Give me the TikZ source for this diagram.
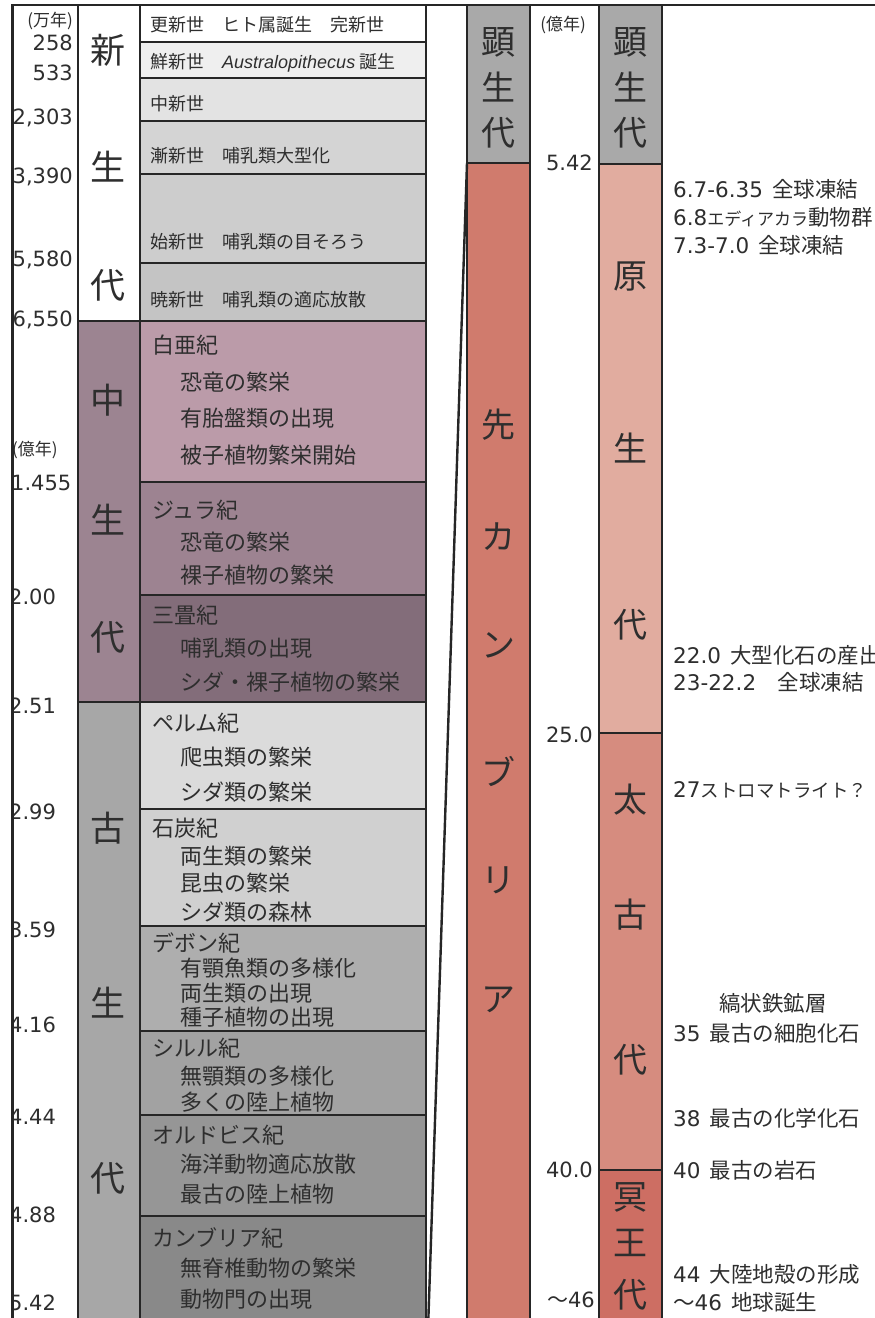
\documentclass[tikz,border=0pt]{standalone}
\usepackage{fontspec}
\setmainfont{Noto Sans CJK JP}
\newfontfamily\dv{DejaVu Sans}
\newfontfamily\lsans{Liberation Sans}
\definecolor{txt}{HTML}{2E2E2E}
\definecolor{ln}{HTML}{262626}
\definecolor{pA}{HTML}{FFFFFF}
\definecolor{pB}{HTML}{EFEFEF}
\definecolor{pC}{HTML}{E3E3E3}
\definecolor{pD}{HTML}{D4D4D4}
\definecolor{pE}{HTML}{CDCDCD}
\definecolor{pF}{HTML}{C4C4C4}
\definecolor{mK}{HTML}{BB9BA9}
\definecolor{mJ}{HTML}{9D8391}
\definecolor{mT}{HTML}{836D7A}
\definecolor{mEra}{HTML}{9C8491}
\definecolor{qP}{HTML}{DBDBDB}
\definecolor{qC}{HTML}{D0D0D0}
\definecolor{qD}{HTML}{AEAEAE}
\definecolor{qS}{HTML}{A2A2A2}
\definecolor{qO}{HTML}{969696}
\definecolor{qCm}{HTML}{898989}
\definecolor{qEra}{HTML}{A7A7A7}
\definecolor{phan}{HTML}{A9A9A9}
\definecolor{precam}{HTML}{D07B6D}
\definecolor{prot}{HTML}{E1AC9F}
\definecolor{arch}{HTML}{D68C7F}
\definecolor{hade}{HTML}{CD6E63}
\newcommand\gap{\hspace{9pt}}
\begin{document}
\begin{tikzpicture}[x=1pt,y=-1pt,
 bx/.style={draw=ln,line width=1.8pt},
 lab/.style={inner sep=0pt,text=txt,anchor=west},
 cz/.style={lab,font=\fontsize{18}{20}\selectfont},
 pz/.style={lab,font=\fontsize{22}{24}\selectfont},
 era/.style={inner sep=0pt,text=txt,font=\fontsize{35}{36}\selectfont},
 big/.style={inner sep=0pt,text=txt,font=\fontsize{34}{36}\selectfont},
 num/.style={inner sep=0pt,text=txt,font=\dv\fontsize{21}{24}\selectfont},
 unitlab/.style={inner sep=0pt,text=txt,font=\fontsize{17}{18}\selectfont},
 note/.style={lab,font=\fontsize{21.5}{24}\selectfont}]
\useasboundingbox (0,0) rectangle (875,1318);
\clip (0,0) rectangle (875,1318);
\fill[white] (0,0) rectangle (875,1318);

% ---- left: period column ----
\fill[pA] (140,5) rectangle (426,42);
\fill[pB] (140,42) rectangle (426,78);
\fill[pC] (140,78) rectangle (426,121);
\fill[pD] (140,121) rectangle (426,174);
\fill[pE] (140,174) rectangle (426,263);
\fill[pF] (140,263) rectangle (426,321);
\fill[mK] (140,321) rectangle (426,482);
\fill[mJ] (140,482) rectangle (426,595);
\fill[mT] (140,595) rectangle (426,702);
\fill[qP] (140,702) rectangle (426,809);
\fill[qC] (140,809) rectangle (426,926);
\fill[qD] (140,926) rectangle (426,1031);
\fill[qS] (140,1031) rectangle (426,1115);
\fill[qO] (140,1115) rectangle (426,1216);
\fill[qCm] (140,1216) rectangle (426,1330);
\foreach \a/\b in {5/42,42/78,78/121,121/174,174/263,263/321,321/482,482/595,595/702,702/809,809/926,926/1031,1031/1115,1115/1216,1216/1330}
  \draw[bx] (140,\a) rectangle (426,\b);

% ---- era column ----
\fill[white] (78,5) rectangle (140,321);
\fill[mEra] (78,321) rectangle (140,702);
\fill[qEra] (78,702) rectangle (140,1330);
\draw[bx] (78,5) rectangle (140,321);
\draw[bx] (78,321) rectangle (140,702);
\draw[bx] (78,702) rectangle (140,1330);

\node[era] (e1) at (108,50) {新};
\node[era] (e2) at (108,167) {生};
\node[era] (e3) at (108,285) {代};
\node[era] (e4) at (108,400) {中};
\node[era] (e5) at (108,520) {生};
\node[era] (e6) at (108,637) {代};
\node[era] (e7) at (108,828) {古};
\node[era] (e8) at (108,1003) {生};
\node[era] (e9) at (108,1178) {代};

% ---- period texts ----
\node[cz] (t1) at (150,25) {更新世　ヒト属誕生　完新世};
\node[cz] (t2) at (150,63) {鮮新世　{\lsans\itshape Australopithecus} 誕生};
\node[cz] (t3) at (150,104) {中新世};
\node[cz] (t4) at (150,156) {漸新世　哺乳類大型化};
\node[cz] (t5) at (150,242) {始新世　哺乳類の目そろう};
\node[cz] (t6) at (150,300) {暁新世　哺乳類の適応放散};

\node[pz] (k0) at (152,345) {白亜紀};
\node[pz] (k1) at (180,382) {恐竜の繁栄};
\node[pz] (k2) at (180,418) {有胎盤類の出現};
\node[pz] (k3) at (180,455) {被子植物繁栄開始};
\node[pz] (j0) at (152,510) {ジュラ紀};
\node[pz] (j1) at (180,542) {恐竜の繁栄};
\node[pz] (j2) at (180,575) {裸子植物の繁栄};
\node[pz] (r0) at (152,615) {三畳紀};
\node[pz] (r1) at (180,648) {哺乳類の出現};
\node[pz] (r2) at (180,682) {シダ・裸子植物の繁栄};

\node[pz] (p0) at (152,723) {ペルム紀};
\node[pz] (p1) at (180,757) {爬虫類の繁栄};
\node[pz] (p2) at (180,792) {シダ類の繁栄};
\node[pz] (c0) at (152,828) {石炭紀};
\node[pz] (c1) at (180,856) {両生類の繁栄};
\node[pz] (c2) at (180,883) {昆虫の繁栄};
\node[pz] (c3) at (180,912) {シダ類の森林};
\node[pz] (d0) at (152,943) {デボン紀};
\node[pz] (d1) at (180,968) {有顎魚類の多様化};
\node[pz] (d2) at (180,993) {両生類の出現};
\node[pz] (d3) at (180,1017) {種子植物の出現};
\node[pz] (s0) at (152,1048) {シルル紀};
\node[pz] (s1) at (180,1076) {無顎類の多様化};
\node[pz] (s2) at (180,1102) {多くの陸上植物};
\node[pz] (o0) at (152,1135) {オルドビス紀};
\node[pz] (o1) at (180,1164) {海洋動物適応放散};
\node[pz] (o2) at (180,1194) {最古の陸上植物};
\node[pz] (m0) at (152,1238) {カンブリア紀};
\node[pz] (m1) at (180,1268) {無脊椎動物の繁栄};
\node[pz] (m2) at (180,1299) {動物門の出現};

% ---- left number column ----
\begin{scope}
\clip (14,0) rectangle (77,1318);
\node[unitlab,anchor=east] (u1) at (73,21) {(万年)};
\node[num,anchor=east] (n1) at (73,43) {258};
\node[num,anchor=east] (n2) at (73,73) {533};
\node[num,anchor=east] (n3) at (73,118) {2,303};
\node[num,anchor=east] (n4) at (73,177) {3,390};
\node[num,anchor=east] (n5) at (73,260) {5,580};
\node[num,anchor=east] (n6) at (73,320) {6,550};
\node[unitlab,anchor=west] (u2) at (12,450) {(億年)};
\node[num,anchor=west] (n7) at (11,483) {1.455};
\node[num,anchor=west] (n8) at (9,597) {2.00};
\node[num,anchor=west] (n9) at (9,706) {2.51};
\node[num,anchor=west] (n10) at (9,812) {2.99};
\node[num,anchor=west] (n11) at (9,930) {3.59};
\node[num,anchor=west] (n12) at (9,1025) {4.16};
\node[num,anchor=west] (n13) at (9,1117) {4.44};
\node[num,anchor=west] (n14) at (9,1215) {4.88};
\node[num,anchor=west] (n15) at (9,1303) {5.42};
\end{scope}

% ---- middle column ----
\fill[phan] (467,5) rectangle (530,163);
\fill[precam] (467,163) rectangle (530,1330);
\draw[bx,line width=1.5pt] (467,5) rectangle (530,163);
\draw[bx,line width=1.5pt] (467,163) rectangle (530,1330);
\coordinate (fanTop) at (467,163);
\coordinate (fanBot) at (428,1330);
\draw[ln,line width=2.4pt] (fanTop) -- (fanBot);

\node[big] (g1) at (498.5,42) {顕};
\node[big] (g2) at (498.5,87) {生};
\node[big] (g3) at (498.5,133) {代};
\node[big] (h1) at (498.5,425) {先};
\node[big] (h2) at (498.5,537) {カ};
\node[big] (h3) at (498.5,645) {ン};
\node[big] (h4) at (498.5,772) {ブ};
\node[big] (h5) at (498.5,880) {リ};
\node[big] (h6) at (498.5,1000) {ア};

% ---- second number column ----
\node[unitlab] (u3) at (563,25) {(億年)};
\node[num,anchor=east] (r1n) at (593,163) {5.42};
\node[num,anchor=east] (r2n) at (593,735) {25.0};
\node[num,anchor=east] (r3n) at (593,1170) {40.0};
\node[num,anchor=east,font=\fontsize{21}{24}\selectfont] (r4n) at (595,1300) {〜{\dv 46}};

% ---- right column ----
\fill[phan] (599,5) rectangle (662,164);
\fill[prot] (599,164) rectangle (662,733);
\fill[arch] (599,733) rectangle (662,1170);
\fill[hade] (599,1170) rectangle (662,1330);
\foreach \a/\b in {5/164,164/733,733/1170,1170/1330}
  \draw[bx,line width=1.5pt] (599,\a) rectangle (662,\b);

\node[big] (q1) at (630.5,42) {顕};
\node[big] (q2) at (630.5,87) {生};
\node[big] (q3) at (630.5,133) {代};
\node[big] (q4) at (630.5,277) {原};
\node[big] (q5) at (630.5,448) {生};
\node[big] (q6) at (630.5,625) {代};
\node[big] (q7) at (630.5,800) {太};
\node[big] (q8) at (630.5,915) {古};
\node[big] (q9) at (630.5,1060) {代};
\node[big] (q10) at (630.5,1197) {冥};
\node[big] (q11) at (630.5,1243) {王};
\node[big] (q12) at (630.5,1295) {代};

% ---- notes ----
\node[note] (a1) at (673,189) {{\dv 6.7-6.35}\gap 全球凍結};
\node[note] (a2) at (673,217) {{\dv 6.8}{\fontsize{17}{18}\selectfont エディアカラ}動物群};
\node[note] (a3) at (673,245) {{\dv 7.3-7.0}\gap 全球凍結};
\node[note] (a4) at (673,655) {{\dv 22.0}\gap 大型化石の産出};
\node[note] (a5) at (673,682) {{\dv 23-22.2}　全球凍結};
\node[note] (a6) at (673,790) {{\dv 27}{\fontsize{18.5}{20}\selectfont ストロマトライト？}};
\node[note,anchor=center] (a7) at (773,1003) {縞状鉄鉱層};
\node[note] (a8) at (673,1033) {{\dv 35}\gap 最古の細胞化石};
\node[note] (a9) at (673,1118) {{\dv 38}\gap 最古の化学化石};
\node[note] (a10) at (673,1170) {{\dv 40}\gap 最古の岩石};
\node[note] (a11) at (673,1274) {{\dv 44}\gap 大陸地殻の形成};
\node[note] (a12) at (673,1302) {〜{\dv 46}\gap 地球誕生};

% ---- frame ----
\draw[ln,line width=2pt] (12,5) -- (875,5);
\draw[ln,line width=3pt] (12,4) -- (12,1330);
\end{tikzpicture}
\end{document}
